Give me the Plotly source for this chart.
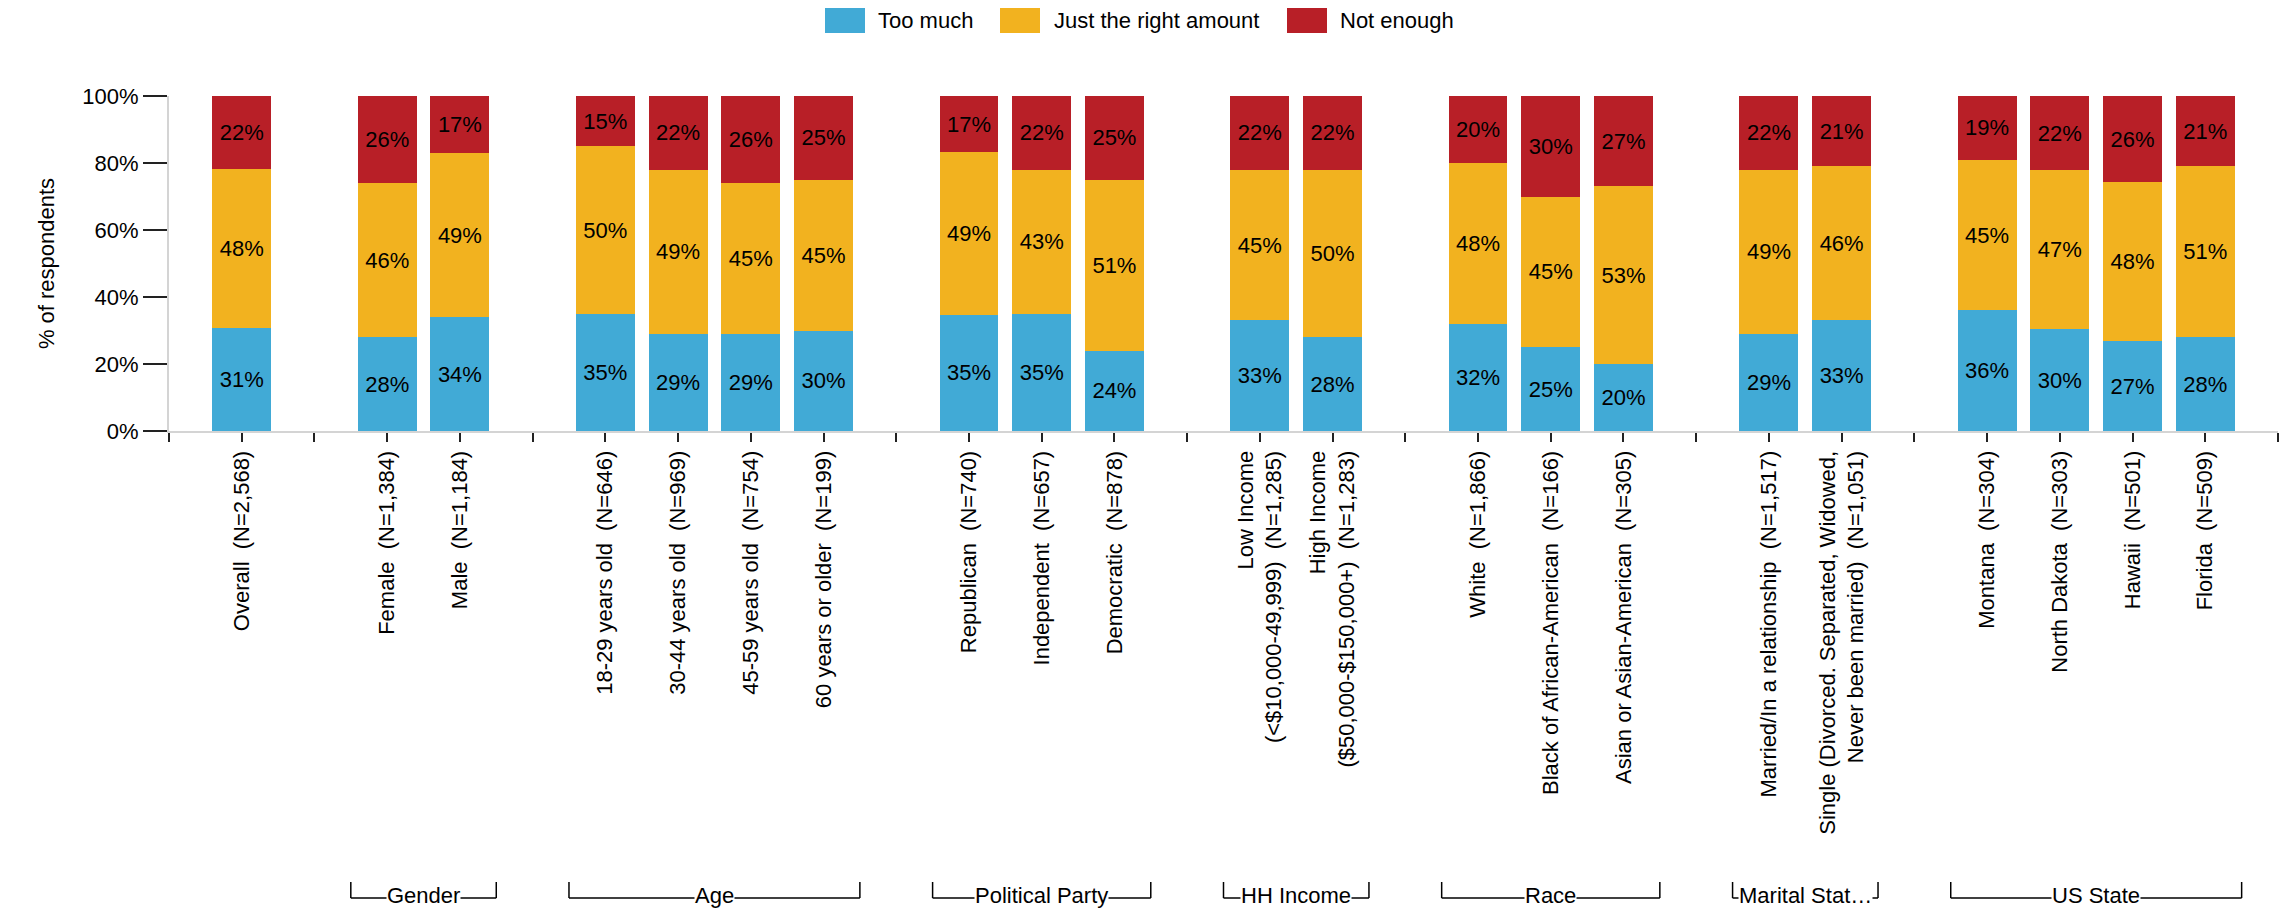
import plotly.graph_objects as go

# ---------------- data ----------------
group_names = [None, "Gender", "Age", "Political Party", "HH Income", "Race", "Marital Stat…", "US State"]
group_labels = [
    ["Overall\u00a0 (N=2,568)"],
    ["Female\u00a0 (N=1,384)", "Male\u00a0 (N=1,184)"],
    ["18-29 years old\u00a0 (N=646)", "30-44 years old\u00a0 (N=969)", "45-59 years old\u00a0 (N=754)", "60 years or older\u00a0 (N=199)"],
    ["Republican\u00a0 (N=740)", "Independent\u00a0 (N=657)", "Democratic\u00a0 (N=878)"],
    ["Low Income<br>(&lt;$10,000-49,999)\u00a0 (N=1,285)", "High Income<br>($50,000-$150,000+)\u00a0 (N=1,283)"],
    ["White\u00a0 (N=1,866)", "Black of African-American\u00a0 (N=166)", "Asian or Asian-American\u00a0 (N=305)"],
    ["Married/In a relationship\u00a0 (N=1,517)", "Single (Divorced. Separated, Widowed,<br>Never been married)\u00a0 (N=1,051)"],
    ["Montana\u00a0 (N=304)", "North Dakota\u00a0 (N=303)", "Hawaii\u00a0 (N=501)", "Florida\u00a0 (N=509)"],
]
too_much   = [31, 28, 34, 35, 29, 29, 30, 35, 35, 24, 33, 28, 32, 25, 20, 29, 33, 36, 30, 27, 28]
just_right = [48, 46, 49, 50, 49, 45, 45, 49, 43, 51, 45, 50, 48, 45, 53, 49, 46, 45, 47, 48, 51]
not_enough = [22, 26, 17, 15, 22, 26, 25, 17, 22, 25, 22, 22, 20, 30, 27, 22, 21, 19, 22, 26, 21]

series_names = ["Too much", "Just the right amount", "Not enough"]
colors = ["#41AAD6", "#F2B21F", "#B81F27"]
FONT = "Liberation Sans Narrow, Arial Narrow, Liberation Sans, Arial, sans-serif"

W, H = 2285, 909
plot_left, plot_right, plot_top, plot_bot = 169, 2278, 96, 431
pw, ph = plot_right - plot_left, plot_bot - plot_top

def px(xpx):
    return (xpx - plot_left) / pw

def py(ypx):
    return (plot_bot - ypx) / ph

# ---------------- positions (with spacer slots) ----------------
xpos, tickvals, ticktext, spans = [], [], [], []
pos = 0
tickvals.append(pos); ticktext.append("")
for gname, labs in zip(group_names, group_labels):
    first = pos + 1
    for lab in labs:
        pos += 1
        xpos.append(pos)
        tickvals.append(pos); ticktext.append(lab)
    last = pos
    spans.append((gname, first, last))
    pos += 1
    tickvals.append(pos); ticktext.append("")
xmax = pos

fig = go.Figure()
for name, vals, col in zip(series_names, [too_much, just_right, not_enough], colors):
    fig.add_trace(go.Bar(
        x=xpos, y=vals, name=name, marker=dict(color=col, line=dict(width=0)),
        width=0.81, text=[f"{v}%" for v in vals], texttemplate="%{text}",
        textposition="inside", insidetextanchor="middle", textangle=0,
        constraintext="none",
        textfont=dict(family=FONT, size=22, color="black"),
        hoverinfo="skip", showlegend=False,
    ))

# group brackets
y_top, y_line = py(882), py(898)
for gname, first, last in spans:
    if gname is None:
        continue
    x0, x1 = first - 0.5, last + 0.5
    line = dict(color="black", width=1.5)
    fig.add_shape(type="line", xref="x", yref="paper", x0=x0, x1=x0, y0=y_top, y1=y_line, line=line)
    fig.add_shape(type="line", xref="x", yref="paper", x0=x1, x1=x1, y0=y_top, y1=y_line, line=line)
    fig.add_shape(type="line", xref="x", yref="paper", x0=x0, x1=x1, y0=y_line, y1=y_line, line=line)
    fig.add_annotation(x=(x0 + x1) / 2, y=py(896), xref="x", yref="paper", text=gname,
                       showarrow=False, bgcolor="white", borderpad=0, yanchor="middle",
                       font=dict(family=FONT, size=22, color="black"))

# legend (drawn manually to get the large swatches)
legend_items = [(825, 876), (1000, 1052), (1287, 1338)]  # swatch left, text left (px)
for (sx, tx), name, col in zip(legend_items, series_names, colors):
    fig.add_shape(type="rect", xref="paper", yref="paper", x0=px(sx), x1=px(sx + 40),
                  y0=py(33), y1=py(8), fillcolor=col, line=dict(width=0))
    fig.add_annotation(x=px(tx), y=py(20), xref="paper", yref="paper", text=name,
                       showarrow=False, xanchor="left", yanchor="middle",
                       font=dict(family=FONT, size=22, color="black"))

fig.update_layout(
    width=W, height=H,
    barmode="stack", barnorm="percent",
    plot_bgcolor="white", paper_bgcolor="white",
    margin=dict(l=plot_left, r=W - plot_right, t=plot_top, b=H - plot_bot),
    font=dict(family=FONT, size=22, color="black"),
    showlegend=False,
    xaxis=dict(range=[0, xmax], tickmode="array", tickvals=tickvals, ticktext=ticktext,
               tickangle=-90, showline=True, linecolor="#D4D4D4", linewidth=2,
               ticks="outside", ticklen=9, tickwidth=2, tickcolor="#222",
               showgrid=False, zeroline=False,
               tickfont=dict(family=FONT, size=22, color="black")),
    yaxis=dict(range=[0, 100], tickmode="linear", tick0=0, dtick=20, ticksuffix="%",
               showline=True, linecolor="#D4D4D4", linewidth=2,
               ticks="outside", ticklen=24, tickwidth=2, tickcolor="#222",
               showgrid=False, zeroline=False,
               tickfont=dict(family=FONT, size=22, color="black"),
               title=dict(text="% of respondents", font=dict(family=FONT, size=22, color="black"),
                          standoff=22)),
)

fig.write_html("out.html", config={"displayModeBar": False},
               post_script="document.body.style.margin='0';document.body.style.overflow='hidden';")
